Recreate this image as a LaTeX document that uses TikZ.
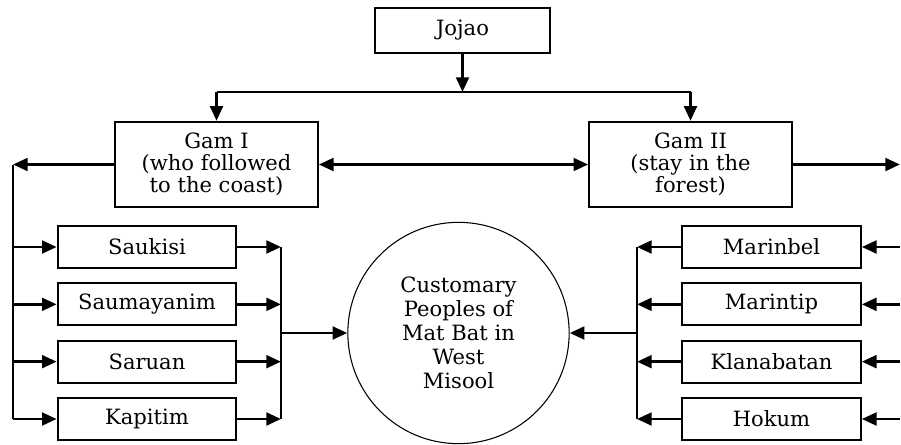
\documentclass[tikz,border=0pt]{standalone}
\usepackage{fontspec}
\setmainfont{DejaVu Serif}
\usetikzlibrary{arrows.meta}
\begin{document}
\begin{tikzpicture}[x=0.75pt, y=-0.75pt, node distance=43pt, every node/.style={draw, line width=1.5pt, align=center, font=\fontsize{15.8}{16.5}\selectfont}, >={Triangle[length=11pt,width=9.5pt]}, line width=2.2pt]
		\tikzstyle{origin} = [minimum width=131pt, minimum height=34pt]
		\tikzstyle{gam} = [minimum width=152pt, minimum height=64pt]
		\tikzstyle{clan} = [minimum width=134pt, minimum height=31.5pt]
		\tikzstyle{people} = [circle, line width=0.8pt, minimum size=166pt, font=\fontsize{15.8}{18}\selectfont]
		\tikzstyle{trunk} = [line width=1.5pt]
		
		\useasboundingbox (0,0) rectangle (901,444);
		
		\node[origin] (jojao) at (462.5,30.5) {Jojao};
		\node[gam] (gam1) at (216.5,164.5) {Gam I\\(who followed\\to the coast)};
		\node[gam] (gam2) at (690.5,164.5) {Gam II\\(stay in the\\forest)};
		\node[people] (people) at (458.5,333) {Customary\\Peoples of\\Mat Bat in\\West\\Misool};
		
		\node[clan] (saukisi) at (147,247) {Saukisi};
		\node[clan] (saumayanim) [below of=saukisi] {Saumayanim};
		\node[clan] (saruan) [below of=saumayanim] {Saruan};
		\node[clan] (kapitim) [below of=saruan] {Kapitim};
		
		\node[clan] (marinbel) at (771.5,247) {Marinbel};
		\node[clan] (marintip) [below of=marinbel] {Marintip};
		\node[clan] (klanabatan) [below of=marintip] {Klanabatan};
		\node[clan] (hokum) [below of=klanabatan] {Hokum};
		
		\coordinate (fork) at (462.5,92);
		\coordinate (forkL) at (gam1.north |- fork);
		\coordinate (forkR) at (gam2.north |- fork);
		\coordinate (leftT) at (13,164.5);
		\coordinate (rightT) at (900,164.5);
		\coordinate (joinL) at (281,333);
		\coordinate (joinR) at (637,333);
		
		\draw[->] (jojao) -- (fork);
		\draw[trunk] (forkL) -- (forkR);
		\draw[->] (forkL) -- (gam1);
		\draw[->] (forkR) -- (gam2);
		\draw[<->] (gam1) -- (gam2);
		\draw[->] (gam1) -- (leftT);
		\draw[->] (gam2) -- (rightT);
		
		\draw[trunk] (leftT) -- (leftT |- kapitim);
		\draw[->] (leftT |- saukisi) -- (saukisi);
		\draw[->] (leftT |- saumayanim) -- (saumayanim);
		\draw[->] (leftT |- saruan) -- (saruan);
		\draw[->] (leftT |- kapitim) -- (kapitim);
		
		\draw[->] (saukisi) -- (joinL |- saukisi);
		\draw[->] (saumayanim) -- (joinL |- saumayanim);
		\draw[->] (saruan) -- (joinL |- saruan);
		\draw[->] (kapitim) -- (joinL |- kapitim);
		\draw[trunk] (joinL |- saukisi) -- (joinL |- kapitim);
		\draw[->] (joinL) -- (people);
		
		\draw[->] (rightT |- marinbel) -- (marinbel);
		\draw[->] (rightT |- marintip) -- (marintip);
		\draw[->] (rightT |- klanabatan) -- (klanabatan);
		\draw[->] (rightT |- hokum) -- (hokum);
		
		\draw[->] (marinbel) -- (joinR |- marinbel);
		\draw[->] (marintip) -- (joinR |- marintip);
		\draw[->] (klanabatan) -- (joinR |- klanabatan);
		\draw[->] (hokum) -- (joinR |- hokum);
		\draw[trunk] (joinR |- marinbel) -- (joinR |- hokum);
		\draw[->] (joinR) -- (people);
	\end{tikzpicture}
\end{document}
